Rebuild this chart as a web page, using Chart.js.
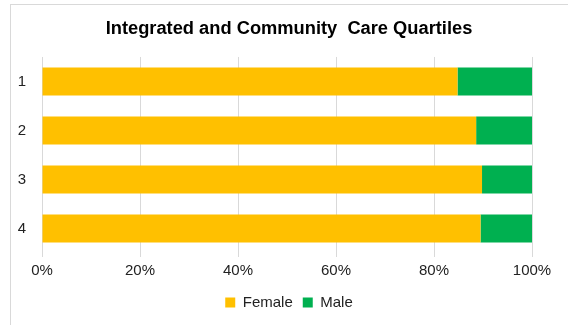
<!DOCTYPE html>
<html>
<head>
<meta charset="utf-8">
<script src="https://cdn.jsdelivr.net/npm/chart.js@4"></script>
<style>
  html, body { margin: 0; padding: 0; background: #fff; }
  #wrap { position: relative; width: 568px; height: 325px; overflow: hidden; }
  #frame { position: absolute; left: 10px; top: 4px; width: 600px; height: 400px; border: 1px solid #d9d9d9; }
  #chart { position: absolute; left: 0; top: 0; }
</style>
</head>
<body>
<div id="wrap">
  <div id="frame"></div>
  <canvas id="chart" width="568" height="325"></canvas>
</div>
<script>
var quartiles = ['1', '2', '3', '4'];
var female = [84.8, 88.6, 89.8, 89.5];
var male = [15.2, 11.4, 10.2, 10.5];

var font = '"Liberation Sans", Arial, sans-serif';

const ctx = document.getElementById('chart').getContext('2d');
new Chart(ctx, {
  type: 'bar',
  data: {
    labels: quartiles,
    datasets: [{
      label: 'Female',
      data: female,
      backgroundColor: '#ffc000',
      categoryPercentage: 1,
      barPercentage: 0.57
    }, {
      label: 'Male',
      data: male,
      backgroundColor: '#00b050',
      categoryPercentage: 1,
      barPercentage: 0.57
    }]
  },
  options: {
    indexAxis: 'y',
    responsive: false,
    animation: false,
    layout: {
      padding: { left: 10, right: 0, top: 1, bottom: 5 }
    },
    plugins: {
      title: {
        display: true,
        text: 'Integrated and Community  Care Quartiles',
        color: '#000',
        font: { family: font, size: 18.3, weight: 'bold' },
        padding: { top: 17, bottom: 17 }
      },
      legend: {
        position: 'bottom',
        labels: {
          color: '#222',
          font: { family: font, size: 15 },
          boxWidth: 10,
          boxHeight: 10,
          padding: 10
        }
      },
      tooltip: { enabled: false }
    },
    scales: {
      x: {
        stacked: true,
        min: 0,
        max: 100,
        ticks: {
          stepSize: 20,
          color: '#222',
          font: { family: font, size: 15 },
          padding: 5,
          callback: function(v) { return v + '%'; }
        },
        grid: { color: '#d9d9d9', tickLength: 4 },
        border: { display: false },
        // keep the plot's right edge clear of the frame
        afterFit: function(scale) { scale.paddingRight = 36; }
      },
      y: {
        stacked: true,
        ticks: {
          color: '#222',
          font: { family: font, size: 15 },
          padding: 8
        },
        grid: { display: false },
        border: { display: false },
        afterFit: function(scale) { scale.width = 32; }
      }
    }
  }
});
</script>
</body>
</html>
